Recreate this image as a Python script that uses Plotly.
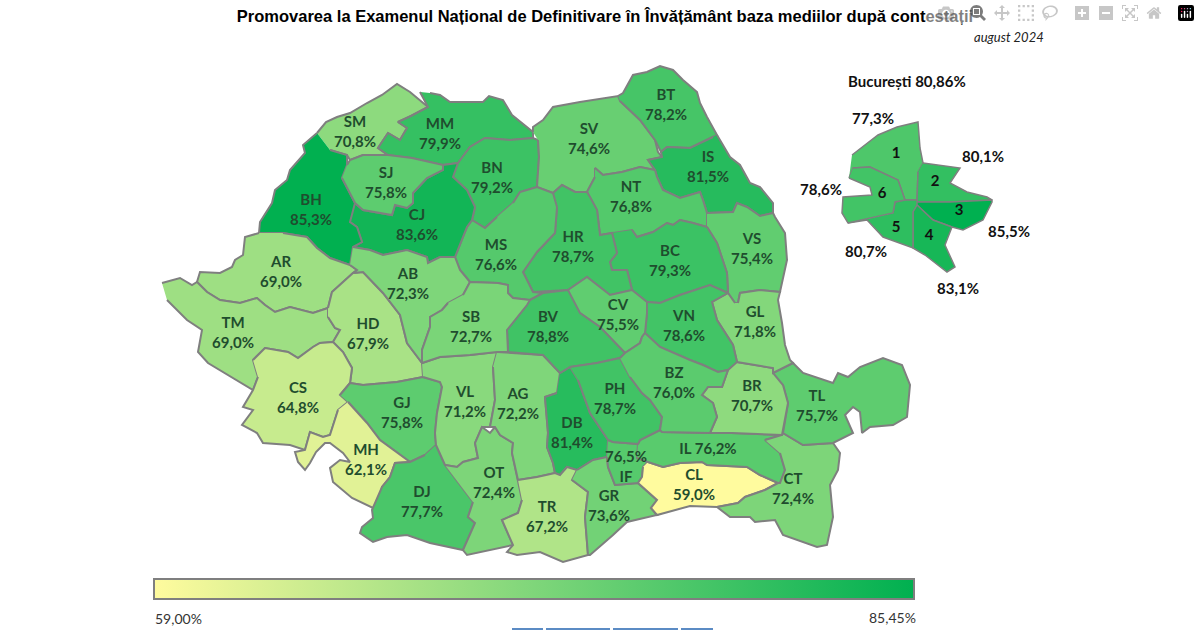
# Promovare Definitivat 2024 - harta pe judete
import plotly.graph_objects as go
from plotly.colors import sample_colorscale

# Values
counties = ["SM","MM","BN","SV","BT","IS","NT","VS","BC","HR","MS","CJ","BH","SJ","AR","TM","HD","CS",
            "GJ","MH","DJ","VL","OT","AG","DB","TR","GR","IF","CL","IL","CT","TL","BR","GL","VN","CV",
            "BV","PH","BZ","AB","SB"]
county_values = [70.8,79.9,79.2,74.6,78.2,81.5,76.8,75.4,79.3,78.7,76.6,83.6,85.3,75.8,69.0,69.0,67.9,64.8,
                 75.8,62.1,77.7,71.2,72.4,72.2,81.4,67.2,73.6,76.5,59.0,76.2,72.4,75.7,70.7,71.8,78.6,75.5,
                 78.8,78.7,76.0,72.3,72.7]
sectors = ["1","2","3","4","5","6"]
sector_values = [77.3,80.1,85.5,83.1,80.7,78.6]
bucuresti_total = "80,86"
scale_min = 59.00
scale_max = 85.45

scale = [[0,"#FFFB9E"],[0.5,"#7FD67A"],[1,"#00B050"]]

# County outlines (page pixels)
outlines = {
"SM":[(317,133),(326,122),(337,117),(350,113),(367,103),(382,95),(397,84),(410,92),(428,107),(411,116),(398,122),(407,128),(400,140),(388,133),(378,148),(388,155),(363,155),(350,160),(347,155),(330,150)],
"MM":[(420,92),(428,107),(411,116),(398,122),(407,128),(400,140),(388,133),(378,148),(388,155),(412,158),(443,165),(458,163),(470,147),(485,138),(510,140),(533,138),(533,132),(522,123),(512,115),(503,100),(489,96),(483,102),(450,102),(440,95),(430,93)],
"BN":[(458,163),(470,147),(485,138),(510,140),(533,138),(538,140),(539,157),(537,187),(520,192),(513,203),(497,217),(485,228),(472,220),(475,207),(467,190),(453,177)],
"SV":[(533,132),(533,127),(543,120),(553,107),(580,102),(618,96),(620,101),(640,120),(655,140),(658,152),(662,157),(648,160),(655,170),(640,167),(622,172),(603,175),(595,168),(595,177),(587,192),(575,192),(562,185),(553,193),(537,187),(539,157),(538,140)],
"BT":[(618,96),(623,93),(633,75),(647,72),(660,66),(673,70),(683,80),(697,92),(700,103),(707,117),(717,135),(713,137),(703,142),(690,148),(667,147),(661,152),(655,140),(640,120),(620,101)],
"IS":[(717,135),(730,157),(740,165),(750,183),(760,187),(773,203),(773,213),(760,216),(747,207),(737,203),(733,212),(707,213),(703,200),(700,192),(680,198),(663,190),(657,177),(655,170),(648,160),(662,157),(661,152),(667,147),(690,148),(703,142),(713,137)],
"NT":[(595,168),(603,175),(622,172),(640,167),(655,170),(657,177),(663,190),(680,198),(700,192),(703,200),(707,213),(707,227),(693,223),(680,220),(673,225),(667,223),(653,232),(637,237),(632,230),(612,233),(600,235),(597,210),(590,197),(587,192),(595,177)],
"VS":[(707,213),(733,212),(737,203),(747,207),(760,216),(773,213),(775,217),(785,233),(787,260),(783,280),(780,292),(760,290),(740,293),(738,303),(735,303),(728,293),(727,273),(717,243),(707,227)],
"BC":[(612,233),(617,253),(610,262),(612,270),(627,270),(632,290),(647,302),(660,303),(680,295),(710,285),(728,293),(727,273),(717,243),(707,227),(693,223),(680,220),(673,225),(667,223),(653,232),(637,237),(632,230)],
"HR":[(553,193),(562,185),(575,192),(587,192),(590,197),(597,210),(600,235),(612,233),(617,253),(610,262),(612,270),(627,270),(632,290),(610,295),(587,277),(568,290),(533,292),(523,272),(537,252),(555,233),(557,207)],
"MS":[(513,203),(520,192),(537,187),(553,193),(557,207),(555,233),(537,252),(523,272),(533,292),(543,293),(530,300),(513,298),(508,293),(508,285),(498,283),(470,282),(460,270),(455,257),(467,227),(472,220),(485,228),(497,217)],
"CJ":[(355,203),(363,210),(380,213),(392,215),(395,205),(407,208),(413,203),(413,193),(427,178),(443,170),(443,165),(458,163),(453,177),(467,190),(475,207),(472,220),(467,227),(455,257),(440,257),(428,263),(427,257),(407,250),(383,255),(370,250),(353,247),(362,242),(357,227),(350,222)],
"BH":[(317,133),(303,145),(305,153),(290,170),(287,180),(275,190),(272,203),(260,222),(259,233),(283,233),(307,237),(317,248),(330,258),(350,265),(353,247),(362,242),(357,227),(350,222),(355,203),(342,178),(347,165),(347,155),(330,150)],
"SJ":[(347,165),(350,160),(363,155),(388,155),(412,158),(443,165),(443,170),(427,178),(413,193),(413,203),(407,208),(395,205),(392,215),(380,213),(363,210),(355,203),(342,178)],
"AR":[(259,233),(245,237),(243,255),(235,260),(232,267),(220,273),(200,272),(197,282),(207,292),(220,300),(240,303),(257,298),(265,305),(275,312),(290,307),(313,313),(328,308),(332,292),(353,273),(357,270),(350,265),(330,258),(317,248),(307,237),(283,233)],
"TM":[(162,283),(180,278),(192,285),(197,282),(207,292),(220,300),(240,303),(257,298),(265,305),(275,312),(290,307),(313,313),(328,308),(328,317),(335,328),(340,330),(333,342),(320,343),(313,347),(298,358),(288,352),(265,348),(253,360),(258,377),(253,390),(233,378),(208,363),(198,352),(202,330),(187,320),(167,300)],
"HD":[(328,308),(332,292),(353,273),(363,272),(383,293),(400,315),(407,343),(422,363),(423,377),(397,382),(363,385),(350,383),(352,368),(343,352),(333,342),(340,330),(335,328),(328,317)],
"CS":[(253,360),(265,348),(288,352),(298,358),(313,347),(320,343),(333,342),(343,352),(352,368),(350,383),(340,395),(348,402),(338,410),(330,435),(323,437),(310,432),(305,450),(290,445),(263,443),(257,433),(242,425),(253,410),(243,407),(253,390),(258,377)],
"GJ":[(340,395),(350,383),(363,385),(397,382),(423,377),(440,382),(442,387),(437,413),(435,433),(436,445),(425,455),(410,462),(380,440),(367,423),(348,402)],
"MH":[(348,402),(367,423),(380,440),(410,462),(395,463),(390,477),(382,487),(380,497),(373,508),(352,498),(333,482),(330,468),(340,460),(350,462),(343,453),(330,443),(325,443),(316,452),(310,463),(305,470),(298,462),(295,452),(305,450),(310,432),(323,437),(330,435),(338,410)],
"DJ":[(436,445),(445,465),(473,502),(468,517),(475,523),(463,550),(430,543),(407,535),(387,537),(373,542),(360,533),(362,527),(373,518),(372,510),(382,487),(390,477),(395,463),(410,462),(425,455)],
"VL":[(422,363),(440,357),(470,355),(497,352),(493,367),(495,400),(490,427),(482,427),(475,443),(478,458),(463,462),(457,467),(445,465),(436,445),(435,433),(437,413),(442,387),(440,382),(423,377)],
"OT":[(445,465),(457,467),(463,462),(478,458),(475,443),(482,427),(490,433),(495,427),(500,435),(513,443),(512,453),(518,480),(522,500),(518,513),(502,520),(513,545),(490,550),(467,555),(463,550),(475,523),(468,517),(473,502)],
"AG":[(497,352),(543,355),(560,373),(557,393),(545,397),(548,433),(547,447),(553,463),(555,473),(537,477),(518,480),(512,453),(513,443),(500,435),(495,427),(490,427),(495,400),(493,367)],
"DB":[(560,373),(570,367),(578,380),(590,413),(608,440),(607,457),(593,460),(577,470),(567,467),(560,475),(555,473),(553,463),(547,447),(548,433),(545,397),(557,393)],
"TR":[(518,480),(537,477),(555,473),(560,475),(567,467),(577,470),(572,480),(588,492),(585,517),(588,555),(563,562),(540,552),(517,555),(507,552),(513,545),(502,520),(518,513),(522,500)],
"GR":[(577,470),(593,460),(607,457),(608,467),(615,485),(638,483),(657,500),(651,508),(657,515),(627,522),(613,535),(590,555),(588,555),(585,517),(588,492),(572,480)],
"IF":[(608,440),(613,442),(638,444),(637,458),(648,462),(643,467),(642,477),(638,483),(615,485),(608,467),(607,457)],
"CL":[(648,462),(663,467),(680,463),(702,462),(707,465),(747,467),(760,475),(778,483),(765,490),(745,497),(738,503),(717,507),(690,506),(657,515),(651,508),(657,500),(638,483),(642,477),(643,467)],
"IL":[(638,444),(640,440),(660,430),(662,432),(708,433),(732,433),(782,435),(765,440),(780,453),(785,470),(780,483),(778,483),(760,475),(747,467),(707,465),(702,462),(680,463),(663,467),(648,462),(637,458)],
"CT":[(765,440),(782,435),(783,433),(803,445),(833,443),(840,453),(838,470),(830,485),(833,517),(827,545),(817,547),(783,535),(775,520),(755,522),(750,517),(730,517),(717,507),(738,503),(745,497),(765,490),(778,483),(780,483),(785,470),(780,453)],
"TL":[(773,373),(793,363),(803,373),(833,383),(838,373),(848,377),(860,367),(883,358),(902,365),(910,385),(907,417),(893,425),(870,427),(862,433),(860,412),(853,407),(845,415),(853,433),(833,443),(803,445),(783,433),(788,403),(783,385)],
"BR":[(737,362),(773,368),(773,373),(783,385),(788,403),(783,433),(782,435),(732,433),(710,433),(717,417),(713,403),(702,395),(708,387),(722,387),(728,370)],
"GL":[(738,303),(740,293),(760,290),(780,292),(778,300),(782,323),(785,345),(790,360),(793,363),(773,373),(773,368),(737,362),(733,345),(717,320),(712,302),(728,293),(735,303)],
"VN":[(647,302),(660,303),(680,295),(710,285),(728,293),(712,302),(717,320),(733,345),(737,362),(728,370),(718,372),(703,365),(690,360),(660,347),(645,333),(647,313)],
"CV":[(568,290),(587,277),(610,295),(632,290),(647,302),(647,313),(645,333),(642,337),(640,343),(625,353),(600,327),(580,313)],
"BV":[(530,300),(543,293),(568,290),(580,313),(600,327),(625,353),(620,358),(597,363),(570,367),(560,373),(543,355),(508,352),(507,330),(515,320),(527,305)],
"PH":[(570,367),(597,363),(620,358),(630,377),(642,393),(650,400),(662,417),(660,430),(640,440),(638,444),(613,442),(608,440),(590,413),(578,380)],
"BZ":[(620,358),(625,353),(640,343),(642,337),(645,333),(660,347),(690,360),(703,365),(718,372),(728,370),(722,387),(708,387),(702,395),(713,403),(717,417),(710,433),(662,432),(660,430),(662,417),(650,400),(642,393),(630,377)],
"AB":[(350,265),(357,270),(353,273),(363,272),(383,293),(400,315),(407,343),(422,363),(422,350),(430,327),(430,317),(442,310),(448,303),(463,295),(470,282),(460,270),(455,257),(440,257),(428,263),(427,257),(407,250),(383,255),(370,250),(353,247)],
"SB":[(463,295),(470,282),(498,283),(508,285),(508,293),(513,298),(530,300),(527,305),(515,320),(507,330),(508,352),(497,352),(470,355),(440,357),(422,363),(422,350),(430,327),(430,317),(442,310),(448,303)],
}
sector_outlines = {
"1":[(852,155),(867,143),(878,135),(897,127),(918,122),(920,148),(923,163),(918,172),(917,200),(905,200),(898,180),(870,167),(853,168),(849,178)],
"2":[(923,163),(960,168),(950,183),(967,192),(987,197),(992,200),(950,202),(917,202),(918,172)],
"3":[(917,202),(950,202),(992,200),(992,202),(983,220),(963,230),(952,227),(933,220),(917,205)],
"4":[(917,205),(933,220),(952,227),(945,245),(955,267),(947,272),(925,255),(913,248),(913,212)],
"5":[(893,213),(895,202),(905,200),(917,200),(917,205),(913,212),(913,248),(883,237),(867,220),(848,223)],
"6":[(853,168),(870,167),(898,180),(905,200),(895,202),(893,213),(848,223),(842,213),(843,197),(872,195),(870,187),(849,178)],
}

# Label anchors
label_pos = {"SM":(355,133),"MM":(440,135),"BN":(492,179),"SJ":(386,184),"BH":(311,211),"CJ":(417,226),
    "BT":(666,106),"SV":(589,140),"IS":(708,168),"NT":(631,198),"HR":(573,248),"MS":(496,256),"BC":(670,262),
    "VS":(752,250),"AR":(281,273),"AB":(408,285),"TM":(233,334),"HD":(368,335),"SB":(471,328),"BV":(548,328),
    "CV":(618,316),"VN":(684,327),"GL":(755,323),"CS":(298,399),"GJ":(402,414),"VL":(465,403),"AG":(518,405),
    "PH":(615,400),"BZ":(674,384),"BR":(752,397),"TL":(817,407),"DB":(572,434),"MH":(366,461),"IL":(708,450),
    "IF":(626,468),"CL":(694,486),"DJ":(422,503),"OT":(494,484),"TR":(547,518),"GR":(609,507),"CT":(793,490)}
sector_num_pos = {"1":(896,154),"2":(935,182),"3":(959,211),"4":(929,236),"5":(896,228),"6":(882,194)}
sector_val_pos = {"1":(873,120),"2":(983,158),"3":(1009,233),"4":(958,290),"5":(866,253),"6":(821,191)}


def pct(v):
    return f"{v:.1f}".replace(".", ",") + "%"


def colour(v):
    # sector 3 is rounded to 85.5, just over the top of the scale
    t = min((v - scale_min) / (scale_max - scale_min), 1)
    return sample_colorscale(scale, [t])[0]


fig = go.Figure()

for code, v in zip(counties, county_values):
    pts = outlines[code]
    fig.add_trace(go.Scatter(x=[p[0] for p in pts], y=[p[1] for p in pts], mode="lines", fill="toself",
                             fillcolor=colour(v), line=dict(color="#7F7F7F", width=2), hoverinfo="skip"))

for s, v in zip(sectors, sector_values):
    pts = sector_outlines[s]
    fig.add_trace(go.Scatter(x=[p[0] for p in pts], y=[p[1] for p in pts], mode="lines", fill="toself",
                             fillcolor=colour(v), line=dict(color="#7F7F7F", width=1.5), hoverinfo="skip"))

# county labels
texts = []
for code, v in zip(counties, county_values):
    if code == "IL":
        texts.append(f"IL {pct(v)}")
    elif code == "IF":
        texts.append(f"{pct(v)}<br>IF")
    else:
        texts.append(f"{code}<br>{pct(v)}")
fig.add_trace(go.Scatter(x=[label_pos[c][0] for c in counties], y=[label_pos[c][1] for c in counties],
                         mode="text", text=texts, textposition="middle center",
                         textfont=dict(family="Lato", size=15, color="#1F4D2E", weight="bold"), hoverinfo="skip"))

# Bucuresti labels
fig.add_trace(go.Scatter(x=[sector_num_pos[s][0] for s in sectors], y=[sector_num_pos[s][1] for s in sectors],
                         mode="text", text=sectors, textfont=dict(family="Lato", size=15, color="#111111", weight="bold"),
                         hoverinfo="skip"))
fig.add_trace(go.Scatter(x=[sector_val_pos[s][0] for s in sectors], y=[sector_val_pos[s][1] for s in sectors],
                         mode="text", text=[pct(v) for v in sector_values],
                         textfont=dict(family="Lato", size=15, color="#111111", weight="bold"), hoverinfo="skip"))

# hidden points, only here for the colour bar
fig.add_trace(go.Scatter(x=[-50,-50], y=[-50,-50], mode="markers", hoverinfo="skip",
                         marker=dict(color=[scale_min, scale_max], colorscale=scale, cmin=scale_min, cmax=scale_max,
                                     showscale=True,
                                     colorbar=dict(orientation="h", x=534/1200, xanchor="center", len=760/1200,
                                                   lenmode="fraction", y=1-590/630, yanchor="middle", thickness=20,
                                                   outlinecolor="#7F7F7F", outlinewidth=2, ticks="",
                                                   showticklabels=False, xpad=0, ypad=0))))

# bit of cut off table at the bottom edge
fig.add_trace(go.Scatter(x=[512,543,None,546,610,None,613,678,None,681,713], y=[629]*11, mode="lines",
                         line=dict(color="#5B8BC4", width=2), hoverinfo="skip"))

fig.update_layout(
    width=1200, height=630, margin=dict(l=0, r=0, t=0, b=0),
    paper_bgcolor="white", plot_bgcolor="white", showlegend=False,
    title=dict(text="Promovarea la Examenul Național de Definitivare în Învățământ baza mediilor după contestații",
               x=605/1200, xanchor="center", y=1-16/630, yanchor="middle",
               font=dict(family="Liberation Sans", size=16.5, color="black", weight="bold")),
    xaxis=dict(range=[0,1200], visible=False),
    yaxis=dict(range=[630,0], visible=False),
    annotations=[
        dict(x=1046, y=37, xref="x", yref="y", xanchor="right", showarrow=False, text="<i>august 2024</i>",
             font=dict(family="Lato", size=13, color="#222222")),
        dict(x=907, y=81, xref="x", yref="y", showarrow=False, text=f"<b>București {bucuresti_total}%</b>",
             font=dict(family="Lato", size=15, color="#111111")),
        dict(x=153, y=618, xref="x", yref="y", xanchor="left", showarrow=False, text="59,00%",
             font=dict(family="Lato", size=14, color="#333333")),
        dict(x=918, y=617, xref="x", yref="y", xanchor="right", showarrow=False, text="85,45%",
             font=dict(family="Lato", size=14, color="#333333")),
    ],
)

fig.write_html("out.html", post_script="document.body.style.margin='0'")
